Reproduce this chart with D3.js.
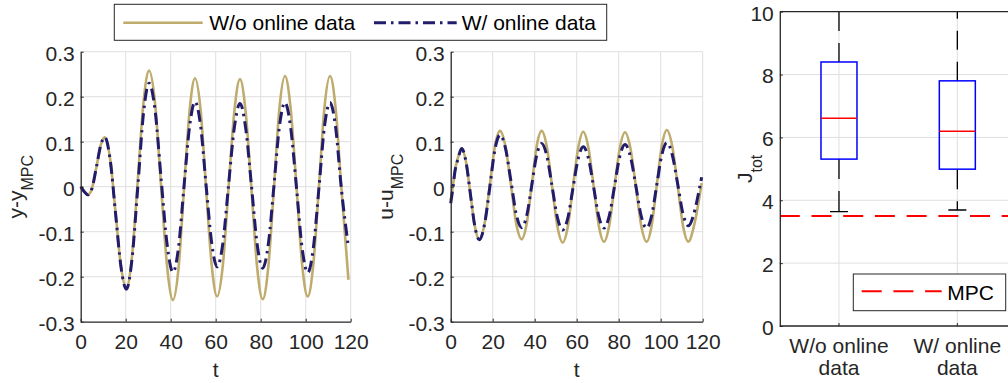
<!DOCTYPE html>
<html>
<head>
<meta charset="utf-8">
<script src="https://cdn.jsdelivr.net/npm/d3@7"></script>
<style>
  body { margin: 0; background: #fff; }
  svg { display: block; font-family: "Liberation Sans", Arial, sans-serif; }
</style>
</head>
<body>
<div id="chart"></div>
<script>
const width = 1008;
const height = 383;

// output deviation y - y_MPC
const yTime = [0, 1.6, 3.2, 5, 7, 9, 10.7, 13.1, 15.5, 17.9, 20.3, 22.8, 25.4, 27.9, 30.4,
  33.1, 35.7, 38.4, 41, 43.5, 45.9, 48.4, 50.8, 53.3, 55.7, 58.2, 60.6, 63.2, 65.7, 68.3, 70.8,
  73.3, 75.9, 78.4, 80.9, 83.4, 85.9, 88.3, 90.8, 93.3, 95.9, 98.4, 100.9, 103.4, 105.9, 108.3,
  110.8, 113.3, 115.8, 119];
const yNoData = [0, -0.011, -0.018, -0.004, 0.044, 0.094, 0.110,
  0.061, -0.058, -0.177, -0.226,
  -0.155, 0.016, 0.187, 0.258,
  0.183, 0.003, -0.177, -0.252,
  -0.180, -0.006, 0.169, 0.241,
  0.170, -0.002, -0.173, -0.244,
  -0.173, -0.003, 0.168, 0.239,
  0.167, -0.006, -0.178, -0.250,
  -0.177, -0.002, 0.173, 0.246,
  0.174, 0.001, -0.172, -0.244,
  -0.172, 0.001, 0.174, 0.246,
  0.174, 0.001, -0.207];
const yWithData = [0, -0.011, -0.018, -0.004, 0.044, 0.094, 0.110,
  0.060, -0.060, -0.178, -0.228,
  -0.161, 0.001, 0.163, 0.230,
  0.168, 0.020, -0.128, -0.190,
  -0.134, 0.000, 0.134, 0.189,
  0.135, 0.005, -0.124, -0.178,
  -0.125, 0.003, 0.132, 0.185,
  0.131, 0.002, -0.127, -0.181,
  -0.127, 0.003, 0.133, 0.187,
  0.132, -0.002, -0.136, -0.191,
  -0.136, -0.002, 0.132, 0.187,
  0.132, -0.002, -0.135];

// input deviation u - u_MPC
const uTime = [0, 1, 2, 3.5, 5.2, 7.3, 9.4, 11.5, 13.6, 16.1, 18.6, 21, 23.5, 26.1, 28.7, 31.2,
  33.8, 36.2, 38.6, 40.9, 43.3, 45.8, 48.3, 50.8, 53.3, 55.8, 58.2, 60.7, 63.1, 65.6, 68.1, 70.5,
  73, 75.5, 78, 80.5, 83, 85.6, 88.2, 90.7, 93.3, 95.7, 98.1, 100.5, 102.9, 105.5, 108.1, 110.6,
  113.2, 115.7, 118.2, 119.5];
const uNoData = [-0.030, 0.000, 0.035, 0.065, 0.085,
  0.055, -0.017, -0.088, -0.118,
  -0.083, 0.003, 0.089, 0.124,
  0.089, 0.004, -0.082, -0.117,
  -0.082, 0.004, 0.089, 0.124,
  0.088, 0.000, -0.088, -0.124,
  -0.088, -0.001, 0.086, 0.122,
  0.086, 0.000, -0.086, -0.122,
  -0.086, 0.000, 0.085, 0.121,
  0.085, 0.000, -0.086, -0.122,
  -0.086, 0.002, 0.090, 0.126,
  0.090, 0.002, -0.086, -0.122,
  -0.090, -0.030, 0.008];
const uWithData = [-0.037, -0.005, 0.033, 0.062, 0.085,
  0.055, -0.017, -0.088, -0.118,
  -0.084, -0.002, 0.081, 0.115,
  0.085, 0.012, -0.061, -0.091,
  -0.064, 0.003, 0.069, 0.096,
  0.068, 0.000, -0.068, -0.096,
  -0.069, -0.004, 0.062, 0.089,
  0.063, -0.002, -0.066, -0.092,
  -0.065, 0.001, 0.067, 0.094,
  0.067, 0.001, -0.065, -0.092,
  -0.064, 0.003, 0.070, 0.098,
  0.071, 0.006, -0.060, -0.087,
  -0.062, -0.010, 0.021];

const tTicks = [0, 20, 40, 60, 80, 100, 120];
const devTicks = [-0.3, -0.2, -0.1, 0, 0.1, 0.2, 0.3];
const seriesNames = ["W/o online data", "W/ online data"];

// boxplot of J_tot
const boxLabels = [["W/o online", "data"], ["W/ online", "data"]];
const boxQ1 = [5.31, 4.99];
const boxMedian = [6.61, 6.20];
const boxQ3 = [8.40, 7.80];
const whiskerLow = [3.64, 3.69];
const whiskerHigh = [11.6, 11.3];
const mpcCost = 3.5;
const jTicks = [0, 2, 4, 6, 8, 10];

const gold = "#bfab6c";
const navy = "#221c6c";
const axisColor = "#262626";
const gridColor = "#dfdfdf";
const fontSize = 21;

const svg = d3.select("#chart").append("svg")
  .attr("width", width)
  .attr("height", height);

function styleAxis(g) {
  g.select(".domain").attr("stroke", axisColor).attr("stroke-width", 1.3);
  g.selectAll(".tick line").attr("stroke", axisColor).attr("stroke-width", 1);
  g.selectAll(".tick text")
    .attr("fill", axisColor)
    .style("font-size", fontSize + "px")
    .style("font-family", "'Liberation Sans', Arial, sans-serif");
}

function yLabel(x, y, main, sub) {
  const t = svg.append("text")
    .attr("transform", `translate(${x},${y}) rotate(-90)`)
    .attr("text-anchor", "middle")
    .attr("fill", axisColor)
    .style("font-size", fontSize + "px");
  t.append("tspan").text(main);
  t.append("tspan").attr("dy", 10).style("font-size", "16px").text(sub);
}

function linePanel(left, right, tArr, s1, s2, main, sub) {
  const top = 51.7, bottom = 321.7;
  const x = d3.scaleLinear().domain([0, 120]).range([left, right]);
  const y = d3.scaleLinear().domain([-0.3, 0.3]).range([bottom, top]);

  // grid
  svg.append("g").selectAll("line").data(tTicks.slice(1)).join("line")
    .attr("x1", d => x(d)).attr("x2", d => x(d))
    .attr("y1", top).attr("y2", bottom)
    .attr("stroke", gridColor).attr("stroke-width", 1);
  svg.append("g").selectAll("line").data(devTicks.slice(1)).join("line")
    .attr("x1", left).attr("x2", right)
    .attr("y1", d => y(d)).attr("y2", d => y(d))
    .attr("stroke", gridColor).attr("stroke-width", 1);

  const line = arr => d3.line()
    .x((d, i) => x(tArr[i]))
    .y(d => y(d))
    .curve(d3.curveMonotoneX)(arr);

  svg.append("path").attr("d", line(s1))
    .attr("fill", "none").attr("stroke", gold).attr("stroke-width", 2.6);
  svg.append("path").attr("d", line(s2))
    .attr("fill", "none").attr("stroke", navy).attr("stroke-width", 3)
    .attr("stroke-dasharray", "12,5,2.5,5");

  const xAxis = svg.append("g")
    .attr("transform", `translate(0,${bottom})`)
    .call(d3.axisBottom(x).tickValues(tTicks).tickSizeInner(-3).tickSizeOuter(0)
      .tickPadding(12).tickFormat(String));
  styleAxis(xAxis);

  const yAxis = svg.append("g")
    .attr("transform", `translate(${left},0)`)
    .call(d3.axisLeft(y).tickValues(devTicks).tickSizeInner(-3).tickSizeOuter(0)
      .tickPadding(6).tickFormat(String));
  styleAxis(yAxis);
  yAxis.selectAll(".tick text").attr("dy", "0.4em");

  svg.append("text")
    .attr("x", (left + right) / 2).attr("y", 376.7)
    .attr("text-anchor", "middle").attr("fill", axisColor)
    .style("font-size", fontSize + "px").text("t");

  yLabel(left - 58, (top + bottom) / 2, main, sub);
}

linePanel(80.7, 350.7, yTime, yNoData, yWithData, "y-y", "MPC");
linePanel(450.7, 702.7, uTime, uNoData, uWithData, "u-u", "MPC");

// top legend
const leg = svg.append("g");
leg.append("rect").attr("x", 114.3).attr("y", 4.3).attr("width", 492.4).attr("height", 36)
  .attr("fill", "#fff").attr("stroke", axisColor).attr("stroke-width", 1);
leg.append("line").attr("x1", 123.3).attr("x2", 202.7).attr("y1", 22.7).attr("y2", 22.7)
  .attr("stroke", gold).attr("stroke-width", 2.6);
leg.append("text").attr("x", 209.3).attr("y", 30).attr("fill", "#000")
  .style("font-size", fontSize + "px").text(seriesNames[0]);
leg.append("line").attr("x1", 374).attr("x2", 456.7).attr("y1", 22.7).attr("y2", 22.7)
  .attr("stroke", navy).attr("stroke-width", 3).attr("stroke-dasharray", "12,5,2.5,5");
leg.append("text").attr("x", 461.7).attr("y", 30).attr("fill", "#000")
  .style("font-size", fontSize + "px").text(seriesNames[1]);

// boxplot panel
(function () {
  const left = 779.8, right = 1016.5, top = 11.7, bottom = 326;
  const x = d3.scaleLinear().domain([0.5, 2.5]).range([left, right]);
  const y = d3.scaleLinear().domain([0, 10]).range([bottom, top]);
  const idx = [0, 1];
  const boxW = 36;

  svg.append("clipPath").attr("id", "boxclip").append("rect")
    .attr("x", left).attr("y", top).attr("width", right - left).attr("height", bottom - top);

  svg.append("g").selectAll("line").data([1, 2]).join("line")
    .attr("x1", d => x(d)).attr("x2", d => x(d)).attr("y1", top).attr("y2", bottom)
    .attr("stroke", gridColor).attr("stroke-width", 1);
  svg.append("g").selectAll("line").data(jTicks.slice(1, -1)).join("line")
    .attr("x1", left).attr("x2", right).attr("y1", d => y(d)).attr("y2", d => y(d))
    .attr("stroke", gridColor).attr("stroke-width", 1);

  const g = svg.append("g").attr("clip-path", "url(#boxclip)");

  // whiskers
  g.selectAll(".wup").data(idx).join("line")
    .attr("x1", i => x(i + 1)).attr("x2", i => x(i + 1))
    .attr("y1", i => y(boxQ3[i])).attr("y2", i => y(whiskerHigh[i]))
    .attr("stroke", "#000").attr("stroke-width", 1.3).attr("stroke-dasharray", "19,12");
  g.selectAll(".wdn").data(idx).join("line")
    .attr("x1", i => x(i + 1)).attr("x2", i => x(i + 1))
    .attr("y1", i => y(boxQ1[i])).attr("y2", i => y(whiskerLow[i]))
    .attr("stroke", "#000").attr("stroke-width", 1.3).attr("stroke-dasharray", "20,12");
  g.selectAll(".cap").data(idx).join("line")
    .attr("x1", i => x(i + 1) - boxW / 4).attr("x2", i => x(i + 1) + boxW / 4)
    .attr("y1", i => y(whiskerLow[i])).attr("y2", i => y(whiskerLow[i]))
    .attr("stroke", "#000").attr("stroke-width", 1.3);

  // boxes
  g.selectAll(".box").data(idx).join("rect")
    .attr("x", i => x(i + 1) - boxW / 2).attr("width", boxW)
    .attr("y", i => y(boxQ3[i])).attr("height", i => y(boxQ1[i]) - y(boxQ3[i]))
    .attr("fill", "none").attr("stroke", "#0000ff").attr("stroke-width", 1.5);
  g.selectAll(".med").data(idx).join("line")
    .attr("x1", i => x(i + 1) - boxW / 2).attr("x2", i => x(i + 1) + boxW / 2)
    .attr("y1", i => y(boxMedian[i])).attr("y2", i => y(boxMedian[i]))
    .attr("stroke", "#ff0000").attr("stroke-width", 1.5);

  // MPC reference
  g.append("line").attr("x1", left).attr("x2", right)
    .attr("y1", y(mpcCost)).attr("y2", y(mpcCost))
    .attr("stroke", "#ff0000").attr("stroke-width", 2).attr("stroke-dasharray", "20,11.7");

  // axes box
  svg.append("line").attr("x1", left).attr("x2", right).attr("y1", top).attr("y2", top)
    .attr("stroke", axisColor).attr("stroke-width", 1.3);
  svg.append("line").attr("x1", left).attr("x2", right).attr("y1", bottom).attr("y2", bottom)
    .attr("stroke", axisColor).attr("stroke-width", 1.3);

  const yAxis = svg.append("g")
    .attr("transform", `translate(${left},0)`)
    .call(d3.axisLeft(y).tickValues(jTicks).tickSizeInner(-3).tickSizeOuter(0)
      .tickPadding(6).tickFormat(String));
  styleAxis(yAxis);
  yAxis.selectAll(".tick text").attr("dy", "0.4em");

  svg.append("g").selectAll("line").data([1, 2]).join("line")
    .attr("x1", d => x(d)).attr("x2", d => x(d)).attr("y1", bottom).attr("y2", bottom - 3)
    .attr("stroke", axisColor);

  const lbl = svg.append("g").selectAll("text").data(idx).join("text")
    .attr("text-anchor", "middle").attr("fill", axisColor)
    .style("font-size", fontSize + "px");
  lbl.append("tspan").attr("x", i => x(i + 1)).attr("y", 353).text(i => boxLabels[i][0]);
  lbl.append("tspan").attr("x", i => x(i + 1)).attr("y", 375).text(i => boxLabels[i][1]);

  // J_tot label
  const jt = svg.append("text")
    .attr("transform", `translate(752,${(top + bottom) / 2}) rotate(-90)`)
    .attr("text-anchor", "middle").attr("fill", axisColor)
    .style("font-size", fontSize + "px");
  jt.append("tspan").text("J");
  jt.append("tspan").attr("dy", 10).style("font-size", "16px").text("tot");

  // MPC legend
  const lg = svg.append("g");
  lg.append("rect").attr("x", 853.3).attr("y", 274).attr("width", 152.4).attr("height", 36.7)
    .attr("fill", "#fff").attr("stroke", axisColor).attr("stroke-width", 1);
  lg.append("line").attr("x1", 861.7).attr("x2", 941.7).attr("y1", 291.3).attr("y2", 291.3)
    .attr("stroke", "#ff0000").attr("stroke-width", 2).attr("stroke-dasharray", "20,11.7");
  lg.append("text").attr("x", 947.3).attr("y", 300).attr("fill", "#000")
    .style("font-size", fontSize + "px").text("MPC");
})();
</script>
</body>
</html>
